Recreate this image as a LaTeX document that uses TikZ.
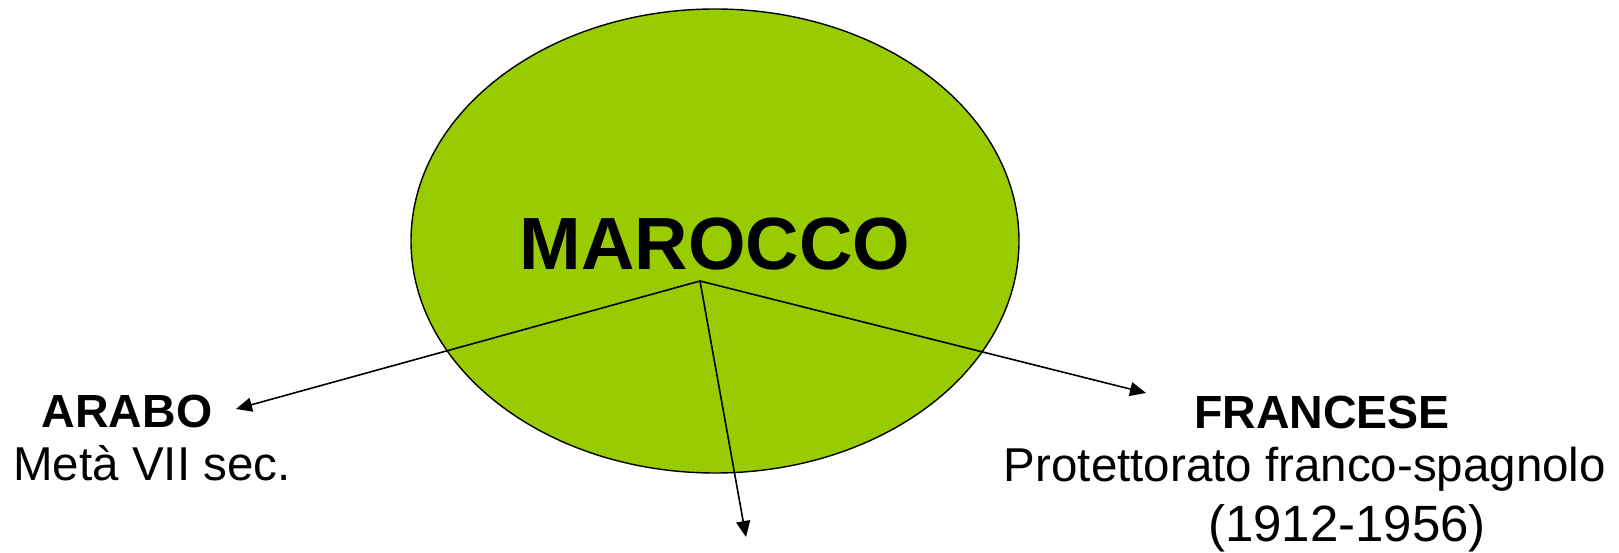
\documentclass[tikz,border=0pt]{standalone}
\usepackage{fontspec}
\setmainfont{Liberation Sans}
\usetikzlibrary{arrows.meta,shapes.geometric}
\definecolor{ellgreen}{HTML}{99CC00}
\tikzset{
  blob/.style={ellipse, draw=black, line width=1.4pt, fill=ellgreen, minimum width=608pt, minimum height=464pt, inner sep=0pt},
  title/.style={anchor=base, inner sep=0pt, font=\fontsize{74}{80}\selectfont\bfseries},
  head/.style={anchor=base, inner sep=0pt, font=\fontsize{46.5}{54}\selectfont\bfseries},
  body/.style={anchor=base, inner sep=0pt, font=\fontsize{47.5}{54}\selectfont},
  bodybig/.style={anchor=base, inner sep=0pt, font=\fontsize{51}{58}\selectfont},
  conn/.style={line width=1.6pt, -{Triangle[length=16pt,width=14pt]}}
}
\begin{document}
\begin{tikzpicture}[x=1pt,y=-1pt]
\useasboundingbox (0,0) rectangle (1619,553);
\node[blob] (marocco) at (715,241) {};
\node[title] (name) at (715,270) {MAROCCO};
\coordinate (hub) at (700,281);
\node[head] (arabo) at (127,427) {ARABO};
\node[body] (arabodate) at (152,480) {Metà VII sec.};
\node[head] (francese) at (1322,428) {FRANCESE};
\node[body] (prot) at (1305,481) {Protettorato franco-spagnolo};
\node[bodybig] (years) at (1347,541) {(1912-1956)};
\coordinate (tipA) at (236,409);
\coordinate (tipF) at (1146,393);
\coordinate (tipD) at (746,537);
\draw[conn] (hub) -- (tipA);
\draw[conn] (hub) -- (tipF);
\draw[conn] (hub) -- (tipD);
\end{tikzpicture}
\end{document}
